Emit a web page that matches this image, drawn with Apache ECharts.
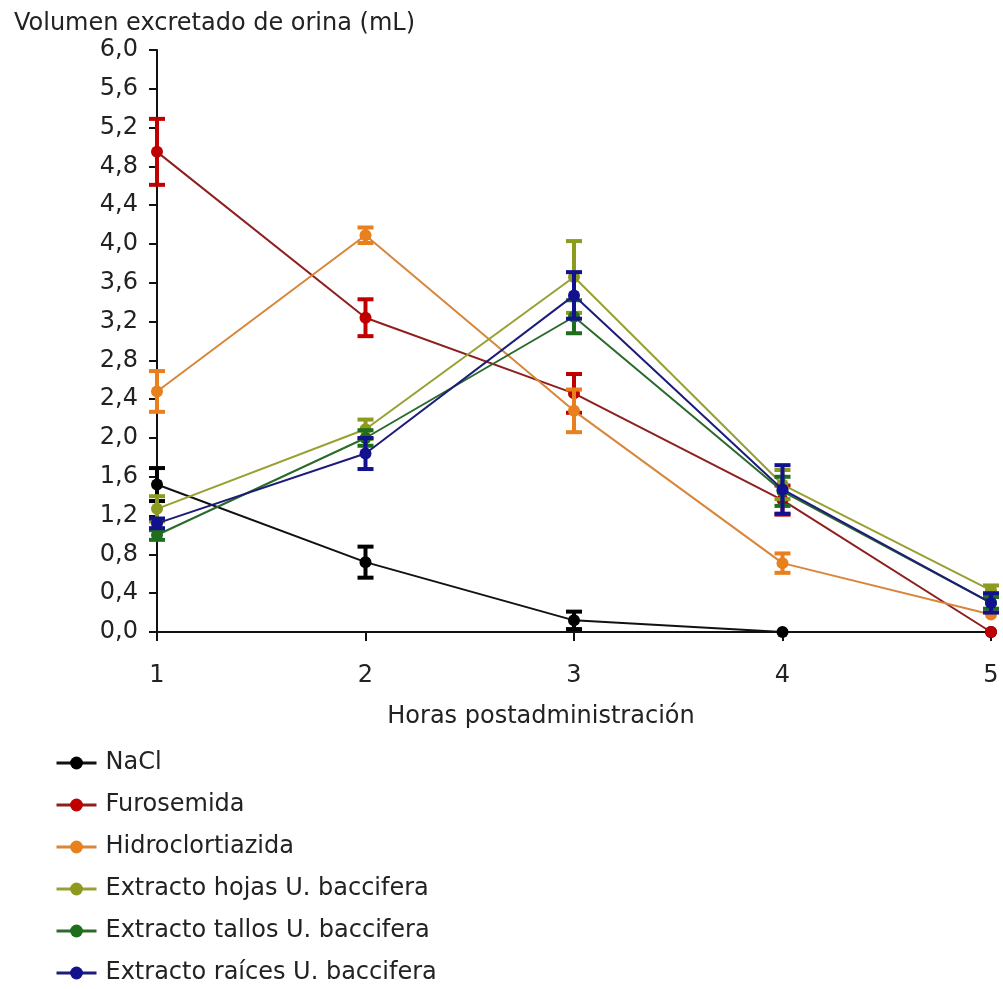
<!DOCTYPE html>
<html>
<head>
<meta charset="utf-8">
<script src="https://cdn.jsdelivr.net/npm/echarts@6/dist/echarts.min.js"></script>
<style>
html,body{margin:0;padding:0;background:#fff;}
#chart{width:1003px;height:989px;}
</style>
</head>
<body>
<div id="chart"></div>
<script>
// Data
var hours = [1, 2, 3, 4, 5];
var seriesNames = ['NaCl', 'Furosemida', 'Hidroclortiazida', 'Extracto hojas U. baccifera', 'Extracto tallos U. baccifera', 'Extracto raíces U. baccifera'];
var naclMean = [1.52, 0.72, 0.12, 0, 0];
var naclErr = [0.17, 0.16, 0.09, 0, 0];
var furoMean = [4.95, 3.24, 2.46, 1.36, 0];
var furoErr = [0.34, 0.19, 0.20, 0.15, 0];
var hidroMean = [2.48, 4.09, 2.28, 0.71, 0.18];
var hidroErr = [0.21, 0.08, 0.22, 0.10, 0];
var hojasMean = [1.27, 2.09, 3.66, 1.52, 0.43];
var hojasErr = [0.13, 0.10, 0.37, 0.15, 0.05];
var tallosMean = [1.00, 2.00, 3.25, 1.45, 0.30];
var tallosErr = [0.05, 0.08, 0.17, 0.15, 0.06];
var raicesMean = [1.12, 1.84, 3.47, 1.47, 0.30];
var raicesErr = [0.05, 0.16, 0.24, 0.25, 0.10];

var means = [naclMean, furoMean, hidroMean, hojasMean, tallosMean, raicesMean];
var errs = [naclErr, furoErr, hidroErr, hojasErr, tallosErr, raicesErr];
var markerColors = ['#000000', '#c00000', '#e8801e', '#8c9a1e', '#1e6e1e', '#12128e'];
var lineColors = ['#111111', '#8e1f1f', '#d8863a', '#98a032', '#2a6a2a', '#1c1c7a'];

var FONT = 'DejaVu Sans';
var FS = 24;
var series = [];
means.forEach(function (m, i) {
  series.push({
    name: seriesNames[i],
    type: 'line',
    data: hours.map(function (h, k) { return [h, m[k]]; }),
    symbol: 'circle',
    symbolSize: 12,
    lineStyle: { color: lineColors[i], width: 2 },
    itemStyle: { color: markerColors[i] },
    z: 3 + i
  });
});
means.forEach(function (m, i) {
  series.push({
    name: seriesNames[i] + ' error',
    type: 'custom',
    z: 3 + i,
    data: hours.map(function (h, k) { return [h, m[k] - errs[i][k], m[k] + errs[i][k], errs[i][k]]; }),
    encode: { x: 0, y: [1, 2] },
    renderItem: function (params, api) {
      if (api.value(3) <= 0) return null;
      var lo = api.coord([api.value(0), api.value(1)]);
      var hi = api.coord([api.value(0), api.value(2)]);
      var hw = 8;
      var st = { stroke: markerColors[i], lineWidth: 4 };
      return {
        type: 'group',
        children: [
          { type: 'line', shape: { x1: lo[0], y1: lo[1], x2: hi[0], y2: hi[1] }, style: st },
          { type: 'line', shape: { x1: lo[0] - hw, y1: lo[1], x2: lo[0] + hw, y2: lo[1] }, style: st },
          { type: 'line', shape: { x1: hi[0] - hw, y1: hi[1], x2: hi[0] + hw, y2: hi[1] }, style: st }
        ]
      };
    }
  });
});

var chart = echarts.init(document.getElementById('chart'));
chart.setOption({
  backgroundColor: '#ffffff',
  animation: false,
  textStyle: { fontFamily: FONT },
  title: {
    text: 'Volumen excretado de orina (mL)',
    left: 9, top: 7,
    textStyle: { fontFamily: FONT, fontSize: FS, fontWeight: 'normal', color: '#222' }
  },
  grid: { left: 157, right: 12, top: 50, bottom: 357, containLabel: false },
  xAxis: {
    type: 'value', min: 1, max: 5, interval: 1,
    name: 'Horas postadministración',
    nameLocation: 'middle', nameGap: 73,
    nameTextStyle: { fontFamily: FONT, fontSize: FS, color: '#222', padding: [0, 66, 0, 0] },
    axisLine: { onZero: false, lineStyle: { color: '#111', width: 2 } },
    axisTick: { show: true, length: 9, lineStyle: { color: '#111', width: 2 } },
    axisLabel: { margin: 32, fontFamily: FONT, fontSize: FS, color: '#222' },
    splitLine: { show: false }
  },
  yAxis: {
    type: 'value', min: 0, max: 6, interval: 0.4,
    axisLine: { show: true, lineStyle: { color: '#111', width: 2 } },
    axisTick: { show: true, length: 8, lineStyle: { color: '#111', width: 2 } },
    axisLabel: {
      margin: 19, fontFamily: FONT, fontSize: FS, color: '#222',
      formatter: function (v) { return v.toFixed(1).replace('.', ','); }
    },
    splitLine: { show: false }
  },
  legend: {
    data: seriesNames,
    orient: 'vertical',
    left: 55, top: 751,
    padding: 0,
    itemWidth: 40, itemHeight: 16, itemGap: 18,
    lineStyle: { width: 3 },
    textStyle: { fontFamily: FONT, fontSize: FS, color: '#222', padding: [0, 0, 0, 4] }
  },
  series: series
});
</script>
</body>
</html>
